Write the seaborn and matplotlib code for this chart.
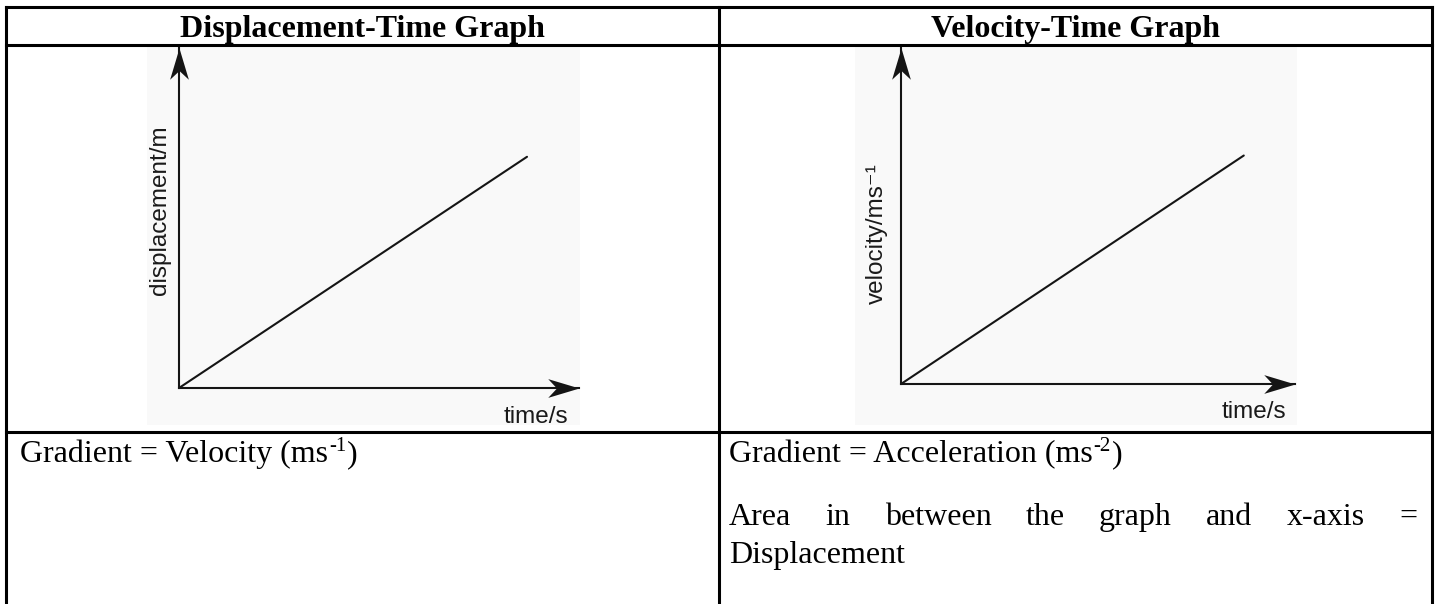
import matplotlib
matplotlib.use("Agg")
import matplotlib.pyplot as plt
import seaborn as sns
from matplotlib.patches import Rectangle
from matplotlib.path import Path

# values (axes run 0..10)
time_disp = [0, 8.7]
displacement = [0, 6.8]
time_vel = [0, 8.7]
velocity = [0, 6.8]

headers = ["Displacement-Time Graph", "Velocity-Time Graph"]
ylabels = ["displacement/m", "velocity/ms\u207b\u00b9"]
xlabel = "time/s"
area_words = ["Area", "in", "between", "the", "graph", "and", "x-axis", "="]

sns.set_style("white")

W, H = 1437, 604
fig = plt.figure(figsize=(W / 100, H / 100), dpi=100)
fig.patch.set_facecolor("white")

# page axes in pixel units, y downwards
page = fig.add_axes([0, 0, 1, 1])
page.set_xlim(0, W)
page.set_ylim(H, 0)
page.axis("off")

# light grey background of the two pasted graph pictures
page.add_patch(Rectangle((147, 46), 433, 379, color="#f9f9f9", lw=0))
page.add_patch(Rectangle((855, 46), 442, 379, color="#f9f9f9", lw=0))

# table grid
lw_tab = 2.2
for y in [7, 45, 432]:
    page.plot([6, 1432], [y, y], color="black", lw=lw_tab, solid_capstyle="projecting")
for x in [6, 719, 1432]:
    page.plot([x, x], [7, H + 5], color="black", lw=lw_tab, solid_capstyle="projecting")

renderer = fig.canvas.get_renderer()


def txt(x, y, s, size=23, bold=False, **kw):
    return page.text(x, y, s, fontsize=size, fontweight="bold" if bold else "normal",
                     family="Liberation Serif", va="baseline", color="black", **kw)


def width(t):
    return t.get_window_extent(renderer).width


def with_sup(x, y, before, sup, after):
    t = txt(x, y, before)
    x2 = x + width(t)
    s = txt(x2 + 1, y - 11, sup, size=15)
    x3 = x2 + 1 + width(s)
    txt(x3 + 1, y, after)


# header row
txt((6 + 719) / 2, 37.5, headers[0], bold=True, ha="center")
txt((719 + 1432) / 2, 37.5, headers[1], bold=True, ha="center")

# bottom row
with_sup(20, 462, "Gradient = Velocity (ms", "-1", ")")
with_sup(729, 462, "Gradient = Acceleration (ms", "-2", ")")

# justified line
words = [txt(0, 525, w) for w in area_words]
ws = [width(w) for w in words]
gap = (1417 - 729 - sum(ws)) / (len(words) - 1)
xpos = 729
for w, wd in zip(words, ws):
    w.set_x(xpos)
    xpos += wd + gap
txt(729, 563, "Displacement")

# notched arrow heads, tip at the path origin
head_right = Path([(0, 0), (-1, 0.3), (-0.72, 0), (-1, -0.3), (0, 0)],
                  [Path.MOVETO, Path.LINETO, Path.LINETO, Path.LINETO, Path.CLOSEPOLY])
head_up = Path([(0, 0), (0.3, -1), (0, -0.72), (-0.3, -1), (0, 0)],
               [Path.MOVETO, Path.LINETO, Path.LINETO, Path.LINETO, Path.CLOSEPOLY])
ink = "#151515"


def graph(origin, tip_x, tip_y, t, v, ylab, ylab_pos, xlab_pos):
    ox, oy = origin
    ax = fig.add_axes([ox / W, (H - oy) / H, (tip_x - ox) / W, (oy - tip_y) / H])
    ax.patch.set_alpha(0)
    sns.lineplot(x=t, y=v, ax=ax, color=ink, linewidth=1.5)
    ax.set_xlim(0, 10)
    ax.set_ylim(0, 10)
    sns.despine(ax=ax)
    for side in ["left", "bottom"]:
        ax.spines[side].set_color(ink)
        ax.spines[side].set_linewidth(1.5)
    ax.set_xticks([])
    ax.set_yticks([])
    ax.set_xlabel("")
    ax.set_ylabel("")
    ax.plot([1], [0], marker=head_right, markersize=45, color=ink, mew=0,
            transform=ax.transAxes, clip_on=False)
    ax.plot([0], [1], marker=head_up, markersize=45, color=ink, mew=0,
            transform=ax.transAxes, clip_on=False)
    ax.text(ylab_pos[0], ylab_pos[1], ylab, transform=ax.transAxes, rotation=90,
            ha="center", va="center", fontsize=17.5,
            family=["Liberation Sans", "DejaVu Sans"], color="#1a1a1a")
    ax.text(xlab_pos[0], xlab_pos[1], xlabel, transform=ax.transAxes, ha="center",
            va="baseline", fontsize=17.5, family="Liberation Sans", color="#1a1a1a")
    return ax


graph((179, 388), 579, 48, time_disp, displacement, ylabels[0], (-0.0475, 0.524), (0.8925, -0.103))
graph((901, 384), 1295, 48, time_vel, velocity, ylabels[1], (-0.061, 0.449), (0.895, -0.101))

fig.savefig("out.png", dpi=100, facecolor="white")
